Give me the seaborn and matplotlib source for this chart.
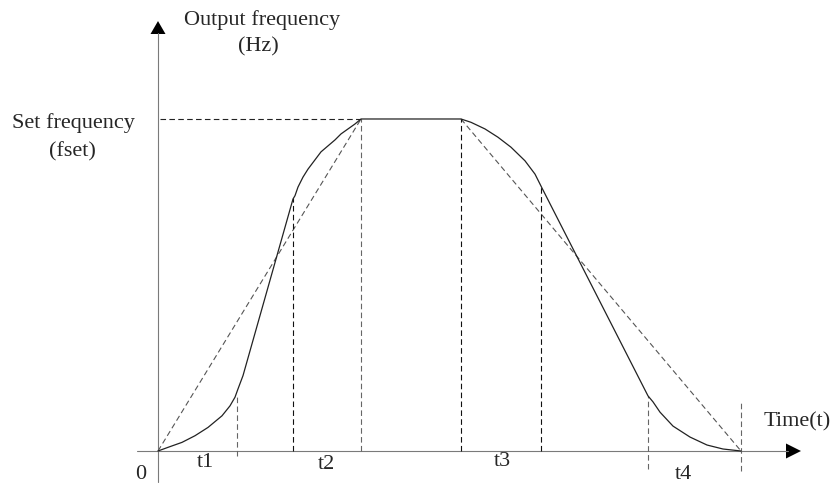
import matplotlib
matplotlib.use("Agg")
import matplotlib.pyplot as plt
import numpy as np
import pandas as pd
import seaborn as sns

# S-curve output frequency profile (frequency as a fraction of fset)
curve_time = [0.00, 0.10, 0.24, 0.37, 0.50, 0.64, 0.72, 0.77, 0.80, 0.85,
              1.35, 1.37, 1.40, 1.45, 1.50, 1.57, 1.63, 1.70, 1.77, 1.83,
              1.90, 1.97, 2.03,
              3.03, 3.13, 3.27, 3.40, 3.53, 3.67, 3.77, 3.84,
              4.90, 4.95, 5.02, 5.15, 5.32, 5.49, 5.65, 5.83]
curve_freq = [0.000, 0.011, 0.026, 0.046, 0.071, 0.106, 0.136, 0.162, 0.187, 0.227,
              0.759, 0.769, 0.795, 0.825, 0.849, 0.877, 0.901, 0.919, 0.937, 0.955,
              0.970, 0.985, 1.000,
              1.000, 0.990, 0.970, 0.945, 0.915, 0.874, 0.834, 0.792,
              0.166, 0.148, 0.117, 0.075, 0.042, 0.018, 0.006, 0.000]

# Linear (reference) acceleration / deceleration ramps
linear_time = [0.00, 2.03, 3.03, 5.83]
linear_freq = [0.0, 1.0, 1.0, 0.0]

# Segment boundaries: time, top and bottom of each dashed marker
marker_time = [0.79, 1.35, 2.03, 3.03, 3.83, 4.90, 5.83]
marker_top = [0.172, 0.762, 1.000, 1.000, 0.795, 0.166, 0.148]
marker_bottom = [-0.015, 0.0, 0.0, 0.0, 0.0, -0.054, -0.060]
marker_dark = [False, True, False, True, True, False, False]

seg_labels = ["t1", "t2", "t3", "t4"]
seg_label_x = [0.47, 1.68, 3.44, 5.25]
seg_label_y = [-0.033, -0.039, -0.030, -0.069]

set_freq = 1.0

sns.set_style("white")
plt.rcParams["font.family"] = ["Liberation Serif", "DejaVu Serif"]

fig = plt.figure(figsize=(8.34, 4.85), dpi=100)
ax = fig.add_axes([0, 0, 1, 1])
ax.set_xlim(-1.58, 6.76)
ax.set_ylim(-0.0994, 1.3614)
ax.axis("off")

dash = (0, (5, 3))
lw = 0.8

# axes with arrow heads
axis_col = "#7a7a7a"
ax.plot([0, 0], [-0.0934, 1.26], color=axis_col, lw=lw)
ax.plot([-0.21, 6.30], [0, 0], color=axis_col, lw=lw)
ax.fill([0, -0.075, 0.075], [1.295, 1.256, 1.256], color="black", lw=0)
ax.fill([6.43, 6.28, 6.28], [0, 0.0226, -0.0226], color="black", lw=0)

# set-frequency guide
ax.plot([0.02, linear_time[1]], [set_freq, set_freq], color="#222222",
        lw=lw, linestyle=dash)

# linear ramps
ax.plot(linear_time[:2], linear_freq[:2], color="#555555", lw=lw, linestyle=dash)
ax.plot(linear_time[2:], linear_freq[2:], color="#555555", lw=lw, linestyle=dash)

# segment boundaries
for t, top, bot, dark in zip(marker_time, marker_top, marker_bottom, marker_dark):
    ax.plot([t, t], [bot, top], color="#111111" if dark else "#666666",
            lw=lw, linestyle=dash)

# S-curve
df = pd.DataFrame({"time": curve_time, "freq": curve_freq})
sns.lineplot(data=df, x="time", y="freq", sort=False, estimator=None,
             color="#222222", lw=0.9, ax=ax)

fs = 16
ax.text(1.04, 1.301, "Output frequency", ha="center", va="center", fontsize=fs)
ax.text(1.00, 1.22, "(Hz)", ha="center", va="center", fontsize=fs)
ax.text(-0.85, 0.991, "Set frequency", ha="center", va="center", fontsize=fs)
ax.text(-0.86, 0.904, "(fset)", ha="center", va="center", fontsize=fs)
ax.text(6.39, 0.090, "Time(t)", ha="center", va="center", fontsize=fs)
ax.text(-0.17, -0.069, "0", ha="center", va="center", fontsize=fs)
for lab, x, y in zip(seg_labels, seg_label_x, seg_label_y):
    ax.text(x, y, lab, ha="center", va="center", fontsize=fs)

fig.savefig("out.png", dpi=100, facecolor="white")
